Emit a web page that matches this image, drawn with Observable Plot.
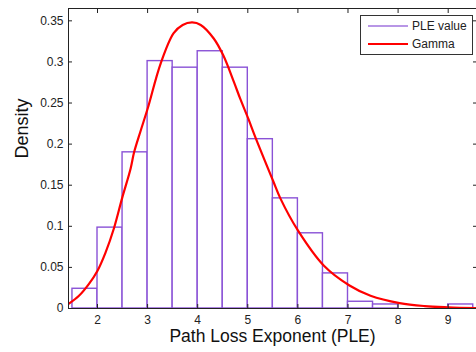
<!DOCTYPE html>
<html>
<head>
<meta charset="utf-8">
<script src="https://cdn.jsdelivr.net/npm/d3@7"></script>
<script src="https://cdn.jsdelivr.net/npm/@observablehq/plot@0.6"></script>
<style>
  html, body { margin: 0; padding: 0; background: #fff; }
  #wrap { position: relative; width: 476px; height: 352px; overflow: hidden; font-family: "Liberation Sans", Arial, sans-serif; }
  #legend { position: absolute; left: 360px; top: 15px; width: 113px; height: 40px; border: 1px solid #333; background: #fff; box-sizing: border-box; font-size: 12px; color: #222; }
  .row { position: absolute; left: 6px; height: 14px; display: flex; align-items: center; }
  .row svg { margin-right: 3px; }
</style>
</head>
<body>
<div id="wrap"></div>
<script>
// Histogram bins (left edges, right edges) and densities
const binLeft  = [1.5, 2.0, 2.5, 3.0, 3.5, 4.0, 4.5, 5.0, 5.5, 6.0, 6.5, 7.0, 7.5, 8.0, 8.5, 9.0];
const binRight = [2.0, 2.5, 3.0, 3.5, 4.0, 4.5, 5.0, 5.5, 6.0, 6.5, 7.0, 7.5, 8.0, 8.5, 9.0, 9.5];
const density  = [0.024, 0.0984, 0.190, 0.301, 0.293, 0.313, 0.293, 0.206, 0.134, 0.0915, 0.0427, 0.0082, 0.0049, 0, 0, 0.0049];

// Gamma fit curve points
const gammaX = [1.43, 1.63, 1.83, 2.0, 2.16, 2.33, 2.49, 2.66, 2.73, 2.86, 3.0, 3.26, 3.52, 3.7, 3.89, 4.06, 4.32, 4.51, 4.72, 4.85, 5.01, 5.15, 5.5, 5.65, 6.0, 6.52, 7.03, 7.45, 8.03, 8.53, 9.0, 9.56];
const gammaY = [0.006, 0.0155, 0.030, 0.046, 0.068, 0.098, 0.134, 0.170, 0.190, 0.216, 0.243, 0.298, 0.335, 0.345, 0.348, 0.345, 0.3285, 0.308, 0.276, 0.255, 0.231, 0.2085, 0.156, 0.134, 0.095, 0.052, 0.028, 0.0155, 0.0066, 0.003, 0.0015, 0.0005];

const xTicks = [2, 3, 4, 5, 6, 7, 8, 9];
const yTicks = [0, 0.05, 0.1, 0.15, 0.2, 0.25, 0.3, 0.35];
const yTickLabels = ["0", "0.05", "0.1", "0.15", "0.2", "0.25", "0.3", "0.35"];

const xLabel = "Path Loss Exponent (PLE)";
const yLabel = "Density";
const seriesNames = ["PLE value", "Gamma"];

const barColor = "#8a52d6";
const curveColor = "#ff0000";

const bars = binLeft.map((l, i) => ({x1: l, x2: binRight[i], y: density[i]}));
const curve = gammaX.map((x, i) => ({x, y: gammaY[i]}));

const chart = Plot.plot({
  width: 476,
  height: 352,
  marginLeft: 68,
  marginRight: 0,
  marginTop: 8,
  marginBottom: 44,
  style: {fontFamily: "'Liberation Sans', Arial, sans-serif", fontSize: "12px", color: "#222", background: "#fff"},
  x: {domain: [1.421, 9.565]},
  y: {domain: [0, 0.365]},
  marks: [
    Plot.rectY(bars, {x1: "x1", x2: "x2", y: "y", fill: "white", stroke: barColor, strokeWidth: 1.4}),
    Plot.line(curve, {x: "x", y: "y", stroke: curveColor, strokeWidth: 2.2, curve: "catmull-rom", clip: true}),
    Plot.frame({stroke: "#222", strokeWidth: 1}),
    // tick marks (inward)
    Plot.axisX(xTicks, {anchor: "bottom", tickSize: -4, tickFormat: () => "", label: null, stroke: "#222"}),
    Plot.axisX(xTicks, {anchor: "top", tickSize: -4, tickFormat: () => "", label: null, stroke: "#222"}),
    Plot.axisY(yTicks, {anchor: "left", tickSize: -4, tickFormat: () => "", label: null, stroke: "#222"}),
    Plot.axisY(yTicks, {anchor: "right", tickSize: -4, tickFormat: () => "", label: null, stroke: "#222"}),
    // tick labels
    Plot.axisX(xTicks, {anchor: "bottom", tickSize: 0, tickPadding: 7, label: null, fontSize: 12, fill: "#222"}),
    Plot.axisY(yTicks, {anchor: "left", tickSize: 0, tickPadding: 5, label: null, fontSize: 12, fill: "#222", tickFormat: (d, i) => yTickLabels[i]}),
    // axis titles
    Plot.text([xLabel], {frameAnchor: "bottom", dy: 33, text: d => d, fontSize: 17.5, fill: "#111"}),
    Plot.text([yLabel], {frameAnchor: "left", dx: -46, rotate: -90, text: d => d, fontSize: 18, fill: "#111"})
  ]
});

const wrap = document.getElementById("wrap");
wrap.appendChild(chart);

// Legend overlay
const legend = document.createElement("div");
legend.id = "legend";
const colors = [barColor, curveColor];
const widths = [1.6, 2.2];
seriesNames.forEach((name, i) => {
  const row = document.createElement("div");
  row.className = "row";
  row.style.top = (i === 0 ? 3 : 21) + "px";
  row.innerHTML = `<svg width="42" height="6"><line x1="1" x2="41" y1="3" y2="3" stroke="${colors[i]}" stroke-width="${widths[i]}" opacity="${i === 0 ? 0.8 : 1}"/></svg><span>${name}</span>`;
  legend.appendChild(row);
});
wrap.appendChild(legend);
</script>
</body>
</html>
